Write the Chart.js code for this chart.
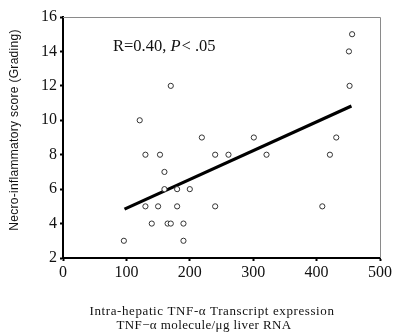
<!DOCTYPE html>
<html>
<head>
<meta charset="utf-8">
<script src="https://cdn.jsdelivr.net/npm/chart.js@4"></script>
<style>
  html, body { margin: 0; padding: 0; background: #fff; }
  #wrap { width: 394px; height: 334px; }
</style>
</head>
<body>
<div id="wrap"><canvas id="chart" width="394" height="334"></canvas></div>
<script>
// TNF-alpha transcripts (x) vs grading score (y)
const tnfValues = [96, 121, 130, 130, 140, 150, 153, 160, 160, 170, 165, 170, 180, 180, 190, 190,
                   200, 219, 240, 240, 261, 301, 321, 409, 421, 431, 451, 456, 452];
const gradeValues = [3, 10, 8, 5, 4, 5, 8, 7, 6, 12, 4, 4, 6, 5, 4, 3,
                     6, 9, 8, 5, 8, 9, 8, 5, 8, 9, 14, 15, 12];
const fitX = [97, 455];
const fitY = [4.84, 10.83];
const xTicks = [0, 100, 200, 300, 400, 500];
const yTicks = [2, 4, 6, 8, 10, 12, 14, 16];

const serif = "'Liberation Serif', 'Times New Roman', serif";
const sans = "'Liberation Sans', Arial, sans-serif";

const scatterPts = tnfValues.map((x, i) => ({ x: x, y: gradeValues[i] }));
const fitPts = fitX.map((x, i) => ({ x: x, y: fitY[i] }));

const textPlugin = {
    id: 'texts',
    afterDraw(chart) {
        const c = chart.ctx;
        const a = chart.chartArea;
        c.save();
        // grey frame top/right
        c.strokeStyle = '#8a8a8a';
        c.lineWidth = 1;
        c.beginPath();
        c.moveTo(a.left, a.top + 0.5);
        c.lineTo(a.right + 0.5, a.top + 0.5);
        c.lineTo(a.right + 0.5, a.bottom);
        c.stroke();

        // annotation
        c.fillStyle = '#111';
        c.textBaseline = 'middle';
        c.textAlign = 'left';
        let x = 113, y = 47;
        c.font = '16.5px ' + serif;
        const p1 = 'R=0.40, ';
        c.fillText(p1, x, y);
        x += c.measureText(p1).width;
        c.font = 'italic 16.5px ' + serif;
        c.fillText('P', x, y);
        x += c.measureText('P').width;
        c.font = '16.5px ' + serif;
        c.fillText('< .05', x + 1, y);

        // x title
        c.textAlign = 'center';
        c.font = '13px ' + serif;
        c.letterSpacing = '0.6px';
        c.fillText('Intra-hepatic TNF-\u03b1 Transcript expression', 212, 312);
        c.letterSpacing = '0.4px';
        c.fillText('TNF\u2212\u03b1 molecule/\u03bcg liver RNA', 204, 326);
        c.letterSpacing = '0px';

        // y title
        c.translate(15, 130);
        c.rotate(-Math.PI / 2);
        c.font = '12px ' + sans;
        c.letterSpacing = '0.3px';
        c.fillText('Necro-inflammatory score (Grading)', 0, 0);
        c.restore();
    }
};

const ctx = document.getElementById('chart').getContext('2d');
const chart = new Chart(ctx, {
    data: {
        datasets: [{
            type: 'scatter',
            data: scatterPts,
            pointStyle: 'circle',
            pointRadius: 2.6,
            pointBorderWidth: 1,
            pointBorderColor: '#333',
            pointBackgroundColor: '#fff'
        }, {
            type: 'line',
            data: fitPts,
            borderColor: '#000',
            borderWidth: 3.2,
            pointRadius: 0,
            fill: false
        }]
    },
    options: {
        responsive: false,
        animation: false,
        layout: { padding: { top: 17, right: 13, left: 0, bottom: 0 } },
        plugins: {
            legend: { display: false },
            tooltip: { enabled: false }
        },
        scales: {
            x: {
                type: 'linear',
                min: 0, max: 500,
                afterBuildTicks: s => { s.ticks = xTicks.map(v => ({ value: v })); },
                afterFit: s => { s.height = 76; },
                border: { color: '#000', width: 2 },
                grid: { drawOnChartArea: false, tickLength: 3, tickWidth: 2, color: '#000' },
                ticks: { color: '#111', padding: 2, maxRotation: 0, font: { family: serif, size: 16 } }
            },
            y: {
                type: 'linear',
                min: 2, max: 16,
                afterBuildTicks: s => { s.ticks = yTicks.map(v => ({ value: v })); },
                afterFit: s => { s.width = 63; },
                border: { color: '#000', width: 2 },
                grid: { drawOnChartArea: false, tickLength: 3, tickWidth: 2, color: '#000' },
                ticks: { color: '#111', padding: 3, font: { family: serif, size: 16 } }
            }
        }
    },
    plugins: [textPlugin]
});
</script>
</body>
</html>
